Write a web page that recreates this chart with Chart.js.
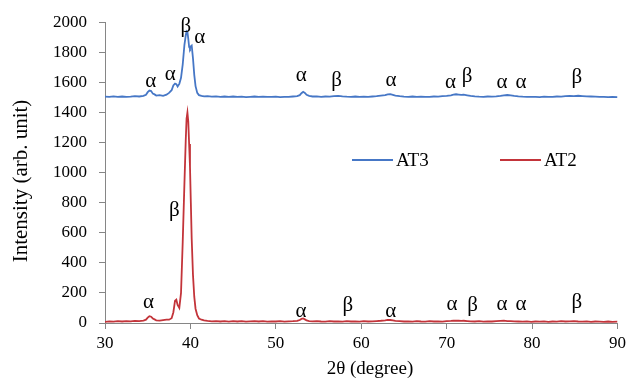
<!DOCTYPE html>
<html>
<head>
<meta charset="utf-8">
<script src="https://cdn.jsdelivr.net/npm/chart.js@4/dist/chart.umd.min.js"></script>
<style>
  html, body { margin: 0; padding: 0; background: #fff; }
  canvas { display: block; }
</style>
</head>
<body>
<canvas id="xrdChart" width="630" height="380"></canvas>
<script>
// 2-theta positions (degree), finer sampling around the peaks
const twoTheta = [
  30, 30.5, 31, 31.5, 32, 32.5, 33, 33.5, 34, 34.5,
  34.8, 35.0, 35.2, 35.4, 35.6, 35.8, 36.0, 36.4, 36.8, 37.2,
  37.5, 37.8, 38.0, 38.2, 38.35, 38.5, 38.7, 38.9, 39.1, 39.3,
  39.45, 39.55, 39.65, 39.75, 39.85, 39.95, 40.05, 40.15, 40.3, 40.45,
  40.6, 40.8, 41.0, 41.3, 41.6, 42.0, 42.5, 43, 43.5, 44,
  44.5, 45, 45.5, 46, 46.5, 47, 47.5, 48, 48.5, 49,
  49.5, 50, 50.5, 51, 51.5, 52, 52.5, 52.8, 53.0, 53.2,
  53.4, 53.6, 53.9, 54.3, 54.8, 55.3, 55.8, 56.3, 56.8, 57.3,
  57.8, 58.3, 58.8, 59.3, 59.8, 60.3, 60.8, 61.3, 61.8, 62.3,
  62.8, 63.1, 63.4, 63.7, 64.0, 64.5, 65, 65.5, 66, 66.5,
  67, 67.5, 68, 68.5, 69, 69.5, 70, 70.5, 70.8, 71.1,
  71.4, 71.7, 72.0, 72.4, 72.8, 73.3, 73.8, 74.3, 74.8, 75.3,
  75.8, 76.3, 76.7, 77.1, 77.5, 77.9, 78.4, 78.9, 79.4, 79.9,
  80.4, 80.9, 81.4, 81.9, 82.4, 82.9, 83.4, 83.9, 84.4, 84.9,
  85.4, 85.9, 86.4, 86.9, 87.4, 87.9, 88.4, 88.9, 89.4, 90
];

// AT3 intensity (already shifted up in the plot)
const at3 = [
  1505, 1503, 1507, 1504, 1506, 1503, 1505, 1508, 1506, 1510,
  1518, 1535, 1546, 1542, 1525, 1520, 1512, 1515, 1510, 1518,
  1530, 1548, 1580, 1592, 1588, 1572, 1590, 1630, 1720, 1850,
  1910, 1940, 1935, 1890, 1835, 1825, 1840, 1845, 1760, 1650,
  1575, 1530, 1515, 1510, 1507, 1509, 1505, 1507, 1504, 1506,
  1504, 1506, 1503, 1505, 1502, 1504, 1506, 1503, 1505, 1504,
  1503, 1505, 1502, 1504, 1503, 1506, 1508, 1515, 1528, 1537,
  1530, 1517, 1510, 1506, 1507, 1504, 1506, 1505, 1508, 1510,
  1507, 1505, 1504, 1506, 1503, 1505, 1504, 1506, 1508, 1512,
  1515, 1520, 1521, 1517, 1512, 1508, 1505, 1504, 1506, 1503,
  1505, 1503, 1504, 1506, 1505, 1508, 1510, 1514, 1518, 1521,
  1519, 1517, 1518, 1514, 1510, 1507, 1505, 1504, 1506, 1505,
  1507, 1510, 1514, 1516, 1514, 1510, 1507, 1505, 1504, 1503,
  1504, 1502, 1505, 1503, 1504, 1506, 1505, 1508, 1510, 1509,
  1511, 1509, 1507, 1506, 1505, 1503, 1504, 1502, 1503, 1502
];

// AT2 intensity
const at2 = [
  8, 11, 9, 12, 10, 13, 11, 14, 12, 16,
  22, 36, 45, 42, 30, 24, 18, 16, 19, 22,
  22, 32, 70, 148, 155, 120, 100, 200, 540, 930,
  1210, 1360, 1400, 1340, 1190, 1040, 800, 560, 320, 175,
  95, 52, 30, 22, 17, 14, 11, 13, 10, 12,
  9, 12, 10, 13, 9, 11, 12, 10, 13, 9,
  11, 10, 12, 9, 11, 12, 14, 20, 27, 30,
  24, 17, 13, 11, 12, 10, 9, 12, 10, 11,
  9, 12, 10, 11, 9, 12, 10, 11, 13, 15,
  18, 21, 20, 17, 14, 12, 10, 11, 9, 12,
  10, 9, 12, 10, 11, 9, 12, 14, 16, 15,
  16, 14, 15, 13, 11, 10, 12, 9, 11, 10,
  12, 14, 16, 13, 12, 11, 10, 9, 11, 8,
  10, 9, 11, 8, 10, 9, 12, 10, 11, 12,
  10, 9, 11, 8, 10, 9, 8, 10, 7, 9
];

const xTicks = [30, 40, 50, 60, 70, 80, 90];
const yTicks = [0, 200, 400, 600, 800, 1000, 1200, 1400, 1600, 1800, 2000];

// phase labels (x in degree, y = text baseline in intensity units)
const peakText = ["α", "α", "β", "α", "α", "β", "α", "α", "β", "α", "α", "β",
                  "α", "β", "α", "β", "α", "α", "β", "α", "α", "β"];
const peakX = [35.37, 37.64, 39.45, 41.08, 52.99, 57.1, 63.49, 70.46, 72.39, 76.48, 78.71, 85.23,
               35.1, 38.11, 52.95, 58.43, 63.45, 70.62, 73.03, 76.48, 78.71, 85.23];
const peakY = [1568, 1615, 1933, 1859, 1608, 1575, 1575, 1563, 1601, 1563, 1563, 1595,
               98, 711, 42, 83, 38, 86, 83, 86, 86, 100];

const serif = "'Liberation Serif', 'Times New Roman', serif";
const axisGray = "#868686";
Chart.defaults.font.family = serif;
Chart.defaults.color = "#000";

const overlay = {
  id: "overlay",
  afterDraw(chart) {
    const { ctx, scales: { x, y } } = chart;
    ctx.save();
    ctx.fillStyle = "#000";

    // alpha / beta markers
    ctx.font = "21px " + serif;
    ctx.textAlign = "center";
    ctx.textBaseline = "alphabetic";
    peakX.forEach((v, i) => {
      ctx.fillText(peakText[i], x.getPixelForValue(v), y.getPixelForValue(peakY[i]));
    });

    // legend inside the plot
    ctx.font = "19px " + serif;
    ctx.textAlign = "left";
    ctx.textBaseline = "middle";
    chart.data.datasets.forEach((ds, i) => {
      const lx = 352 + i * 148;
      ctx.strokeStyle = ds.borderColor;
      ctx.lineWidth = 2;
      ctx.beginPath();
      ctx.moveTo(lx, 160);
      ctx.lineTo(lx + 41, 160);
      ctx.stroke();
      ctx.fillText(ds.label, lx + 44, 161);
    });

    // axis titles
    ctx.textAlign = "center";
    ctx.font = "19px " + serif;
    ctx.fillText("2θ (degree)", 370, 369);
    ctx.translate(21, 181);
    ctx.rotate(-Math.PI / 2);
    ctx.font = "21px " + serif;
    ctx.fillText("Intensity (arb. unit)", 0, 0);
    ctx.restore();
  }
};

function toPoints(values) {
  return twoTheta.map((t, i) => ({ x: t, y: values[i] }));
}

new Chart(document.getElementById("xrdChart"), {
  type: "line",
  data: {
    datasets: [
      {
        label: "AT3",
        data: toPoints(at3),
        borderColor: "#4677C6",
        borderWidth: 1.8,
        pointRadius: 0,
        tension: 0
      },
      {
        label: "AT2",
        data: toPoints(at2),
        borderColor: "#C3343A",
        borderWidth: 1.8,
        pointRadius: 0,
        tension: 0
      }
    ]
  },
  options: {
    responsive: false,
    animation: false,
    layout: { padding: { top: 22, right: 10, left: 0, bottom: 0 } },
    plugins: {
      legend: { display: false },
      tooltip: { enabled: false }
    },
    scales: {
      x: {
        type: "linear",
        min: 30,
        max: 90,
        afterBuildTicks: (scale) => { scale.ticks = xTicks.map((v) => ({ value: v })); },
        afterFit: (scale) => { scale.height = 57; },
        ticks: {
          color: "#000",
          font: { family: serif, size: 17 },
          padding: 4,
          maxRotation: 0,
          callback: (v) => String(v)
        },
        grid: { drawOnChartArea: false, color: axisGray, tickLength: 6 },
        border: { color: axisGray, width: 1 }
      },
      y: {
        min: 0,
        max: 2000,
        afterBuildTicks: (scale) => { scale.ticks = yTicks.map((v) => ({ value: v })); },
        afterFit: (scale) => { scale.width = 105; },
        ticks: {
          color: "#000",
          font: { family: serif, size: 17 },
          padding: 12,
          callback: (v) => String(v)
        },
        grid: { drawOnChartArea: false, color: axisGray, tickLength: 6 },
        border: { color: axisGray, width: 1 }
      }
    }
  },
  plugins: [overlay]
});
</script>
</body>
</html>
